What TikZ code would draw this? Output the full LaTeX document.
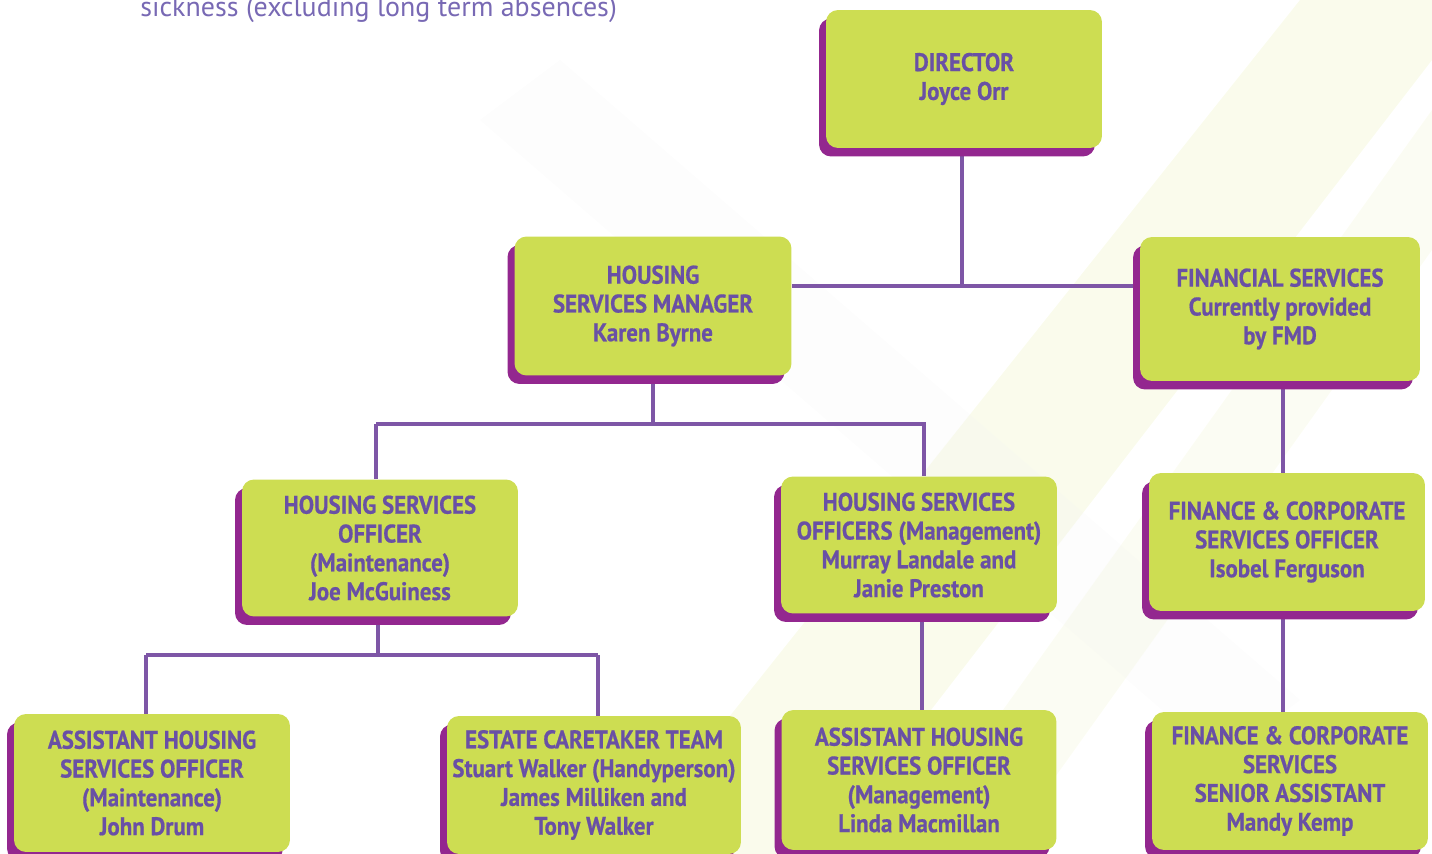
\documentclass[tikz,border=0pt]{standalone}
\usepackage{fontspec}
\setmainfont{PT Sans}[FakeStretch=0.9, FakeBold=0.6]
\newfontfamily\notefont{PT Sans}
\usetikzlibrary{shadows,backgrounds,calc}
\definecolor{boxgreen}{RGB}{205,221,82}
\definecolor{txtpurple}{RGB}{105,80,165}
\definecolor{linepurple}{RGB}{126,86,166}
\definecolor{shadepurple}{RGB}{147,39,143}
\definecolor{notepurple}{RGB}{120,105,180}
\tikzset{>=latex}
\tikzset{
  post/.style={rounded corners=0.24cm, fill=boxgreen, text=txtpurple,
    align=center, inner sep=0pt,
    font=\bfseries\fontsize{14.5}{16.4}\selectfont,
    minimum width=5.52cm, minimum height=2.76cm,
    general shadow={fill=shadepurple, shadow xshift=-0.14cm, shadow yshift=-0.17cm}},
  link/.style={draw=linepurple, line width=0.08cm},
  band/.style={fill=#1, opacity=0.18}
}

\begin{document}
\begin{tikzpicture}[x=0.02cm, y=-0.02cm]
  \useasboundingbox (0,0) rectangle (1432,854);

  % faint crossing bands behind the chart
  \begin{scope}[on background layer]
    \fill[band=boxgreen!60] (620,854) -- (820,854) -- (1432,60) -- (1432,-100) -- (1300,0) -- cycle;
    \fill[band=boxgreen!40] (900,854) -- (1000,854) -- (1432,250) -- (1432,110) -- cycle;
    \fill[band=gray!10] (480,120) -- (560,60) -- (1300,700) -- (1220,760) -- cycle;
  \end{scope}

  % note text cut by the top edge
  \node[anchor=base west, text=notepurple, inner sep=0pt,
        font=\notefont\fontsize{15.9}{18}\selectfont] (note) at (140,17)
        {sickness (excluding long term absences)};

  % boxes
  \node[post] (director) at (964,79) {DIRECTOR\\Joyce Orr};
  \node[post, minimum width=5.54cm, minimum height=2.78cm] (hsm) at (653,306)
        {HOUSING\\SERVICES MANAGER\\Karen Byrne};
  \node[post, minimum width=5.6cm, minimum height=2.88cm] (fin) at (1280,309)
        {FINANCIAL SERVICES\\Currently provided\\by FMD};
  \node[post, minimum height=2.74cm] (hso) at (380,548)
        {HOUSING SERVICES\\OFFICER\\(Maintenance)\\Joe McGuiness};
  \node[post, minimum height=2.74cm] (hsom) at (919,545)
        {HOUSING SERVICES\\OFFICERS (Management)\\Murray Landale and\\Janie Preston};
  \node[post] (fco) at (1287,542)
        {FINANCE \& CORPORATE\\SERVICES OFFICER\\Isobel Ferguson};
  \node[post] (ahso) at (152,783)
        {ASSISTANT HOUSING\\SERVICES OFFICER\\(Maintenance)\\John Drum};
  \node[post, minimum width=5.88cm] (ect) at (594,785)
        {ESTATE CARETAKER TEAM\\Stuart Walker (Handyperson)\\James Milliken and\\Tony Walker};
  \node[post, minimum width=5.5cm, minimum height=2.8cm] (ahsom) at (919,780)
        {ASSISTANT HOUSING\\SERVICES OFFICER\\(Management)\\Linda Macmillan};
  \node[post] (fcsa) at (1290,781)
        {FINANCE \& CORPORATE\\SERVICES\\SENIOR ASSISTANT\\Mandy Kemp};

  % joints of the connectors
  \coordinate (top) at (962,286);
  \coordinate (mid) at (653,424);
  \coordinate (low) at (378,655);

  % connectors
  \begin{scope}[on background layer]
    \draw[link] (director.south -| top) -- (top);
    \draw[link] (hsm.east |- top) -- (fin.west |- top);
    \draw[link] (hsm.south -| mid) -- (mid);
    \draw[link] (mid -| 376,0) -- (mid -| 924,0) -- (hsom.north -| 924,0);
    \draw[link] (mid -| 376,0) -- (hso.north -| 376,0);
    \draw[link] (hso.south -| low) -- (low);
    \draw[link] (low -| 146,0) -- (low -| 598,0);
    \draw[link] (low -| 146,0) -- (ahso.north -| 146,0);
    \draw[link] (low -| 598,0) -- (ect.north -| 598,0);
    \draw[link] (hsom.south -| 922,0) -- (ahsom.north -| 922,0);
    \draw[link] (fin.south -| 1283,0) -- (fco.north -| 1283,0);
    \draw[link] (fco.south -| 1283,0) -- (fcsa.north -| 1283,0);
  \end{scope}
\end{tikzpicture}
\end{document}
